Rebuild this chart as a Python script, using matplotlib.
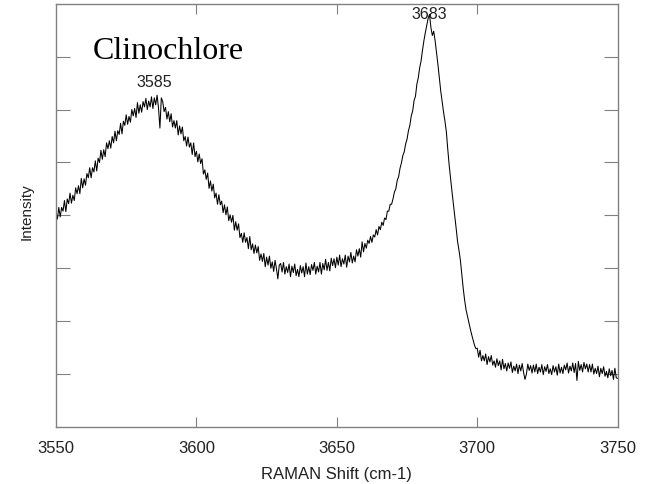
import matplotlib
matplotlib.use("Agg")
import matplotlib.pyplot as plt
import numpy as np

# Raman shift (cm-1), readings every 0.5 cm-1
shift = np.arange(3550, 3750.5, 0.5)

# intensity (arbitrary units, axis 0-8); one row = 10 cm-1
intensity = [
    4.06, 3.93, 4.15, 3.97, 4.15, 4.08, 4.28, 4.07, 4.31, 4.22, 4.42, 4.23, 4.38, 4.28, 4.52, 4.41, 4.56, 4.41, 4.70, 4.52,
    4.69, 4.57, 4.79, 4.71, 4.90, 4.71, 4.90, 4.82, 5.03, 4.84, 5.08, 5.00, 5.23, 5.06, 5.24, 5.11, 5.37, 5.26, 5.41, 5.27,
    5.49, 5.37, 5.59, 5.41, 5.60, 5.53, 5.74, 5.54, 5.78, 5.70, 5.90, 5.72, 5.87, 5.76, 6.00, 5.88, 6.02, 5.85, 6.13, 5.93,
    6.09, 5.95, 6.15, 6.05, 6.21, 6.00, 6.16, 6.05, 6.24, 6.02, 6.22, 6.09, 6.27, 6.03, 5.65, 6.22, 6.15, 5.96, 6.04, 5.82,
    5.96, 5.77, 5.92, 5.67, 5.79, 5.65, 5.79, 5.52, 5.69, 5.54, 5.67, 5.41, 5.49, 5.31, 5.48, 5.29, 5.37, 5.15, 5.37, 5.11,
    5.21, 5.01, 5.16, 4.98, 5.07, 4.78, 4.86, 4.68, 4.80, 4.51, 4.65, 4.46, 4.59, 4.33, 4.42, 4.21, 4.39, 4.20, 4.27, 4.05,
    4.20, 4.01, 4.16, 3.90, 4.01, 3.87, 4.00, 3.72, 3.88, 3.72, 3.84, 3.58, 3.66, 3.49, 3.67, 3.49, 3.58, 3.37, 3.60, 3.35,
    3.46, 3.28, 3.44, 3.29, 3.41, 3.15, 3.27, 3.13, 3.28, 3.03, 3.21, 3.06, 3.23, 3.00, 3.12, 2.94, 3.15, 2.99, 2.80, 3.06,
    3.09, 2.93, 3.11, 2.89, 3.03, 2.92, 3.08, 2.84, 3.04, 2.92, 3.08, 2.86, 2.98, 2.84, 3.05, 2.91, 3.03, 2.84, 3.10, 2.89,
    3.03, 2.88, 3.07, 2.96, 3.11, 2.89, 3.04, 2.93, 3.11, 2.89, 3.09, 2.97, 3.17, 2.96, 3.11, 2.95, 3.19, 3.05, 3.18, 3.01,
    3.21, 3.06, 3.25, 3.03, 3.18, 3.08, 3.25, 3.02, 3.23, 3.12, 3.30, 3.10, 3.23, 3.12, 3.35, 3.23, 3.37, 3.21, 3.50, 3.31,
    3.47, 3.38, 3.53, 3.47, 3.60, 3.49, 3.63, 3.59, 3.73, 3.63, 3.79, 3.73, 3.87, 3.81, 3.95, 3.92, 4.08, 4.08, 4.21, 4.21,
    4.31, 4.44, 4.50, 4.66, 4.73, 4.89, 4.99, 5.13, 5.20, 5.35, 5.44, 5.60, 5.70, 5.88, 5.97, 6.17, 6.25, 6.48, 6.60, 6.79,
    6.92, 7.12, 7.30, 7.45, 7.58, 7.72, 7.80, 7.55, 7.40, 7.48, 7.30, 7.08, 6.85, 6.60, 6.35, 6.15, 5.95, 5.78, 5.58, 5.25,
    4.95, 4.70, 4.45, 4.22, 4.00, 3.75, 3.50, 3.34, 3.15, 2.88, 2.62, 2.40, 2.22, 2.10, 1.98, 1.86, 1.75, 1.65, 1.55, 1.48,
    1.49, 1.32, 1.45, 1.25, 1.35, 1.25, 1.38, 1.18, 1.33, 1.23, 1.35, 1.17, 1.25, 1.13, 1.29, 1.16, 1.25, 1.08, 1.28, 1.10,
    1.20, 1.06, 1.21, 1.11, 1.23, 1.03, 1.15, 1.06, 1.19, 1.01, 1.17, 1.06, 1.20, 1.03, 0.90, 1.00, 1.19, 1.07, 1.16, 1.02,
    1.17, 1.04, 1.19, 1.01, 1.13, 1.04, 1.18, 0.99, 1.14, 1.05, 1.18, 1.01, 1.10, 0.99, 1.16, 1.04, 1.14, 0.98, 1.19, 1.02,
    1.13, 1.01, 1.17, 1.08, 1.21, 1.02, 1.15, 1.06, 1.21, 1.03, 1.20, 0.88, 1.24, 1.07, 1.18, 1.04, 1.22, 1.10, 1.19, 1.04,
    1.18, 1.04, 1.19, 1.00, 1.11, 1.01, 1.15, 0.95, 1.11, 1.01, 1.14, 0.96, 1.05, 0.93, 1.10, 0.97, 1.07, 0.90, 1.11, 0.93,
    0.92,
]

peak_positions = [3585, 3683]
peak_label_y = [6.45, 7.73]
x_ticks = [3550, 3600, 3650, 3700, 3750]

FRAME = "#808080"
TEXT = "#222222"
SANS = "Liberation Sans"

fig = plt.figure(figsize=(6.55, 4.85), dpi=100, facecolor="white")
ax = fig.add_axes([0.0855, 0.1175, 0.8575, 0.8728])

ax.plot(shift, intensity, color="black", linewidth=0.75)

ax.set_xlim(3550, 3750)
ax.set_ylim(0, 8)
ax.set_xticks(x_ticks)
ax.set_xticklabels([str(t) for t in x_ticks], fontsize=12, family=SANS, color=TEXT)
ax.set_yticks(range(1, 8))
ax.tick_params(axis="y", which="both", direction="in", length=10, color=FRAME,
               left=True, right=True, labelleft=False)
ax.tick_params(axis="x", direction="in", length=7, color=FRAME, top=True, pad=9)
# end ticks sit on the frame corners in the original, hide them
for t in (ax.xaxis.get_major_ticks()[0], ax.xaxis.get_major_ticks()[-1]):
    t.tick1line.set_visible(False)
    t.tick2line.set_visible(False)

for spine in ax.spines.values():
    spine.set_color(FRAME)
    spine.set_linewidth(1.0)

ax.set_xlabel("RAMAN Shift (cm-1)", fontsize=12, family=SANS, color=TEXT, labelpad=8)
fig.text(0.04, 0.563, "Intensity", rotation=90, fontsize=11, family=SANS,
         color=TEXT, ha="center", va="center")

for pos, y in zip(peak_positions, peak_label_y):
    ax.text(pos, y, str(pos), fontsize=11.5, family=SANS, color=TEXT,
            ha="center", va="baseline")

ax.text(3563, 6.98, "Clinochlore", fontsize=23, family="Liberation Serif",
        color="black", ha="left", va="baseline")

fig.savefig("out.png", dpi=100, facecolor="white")
